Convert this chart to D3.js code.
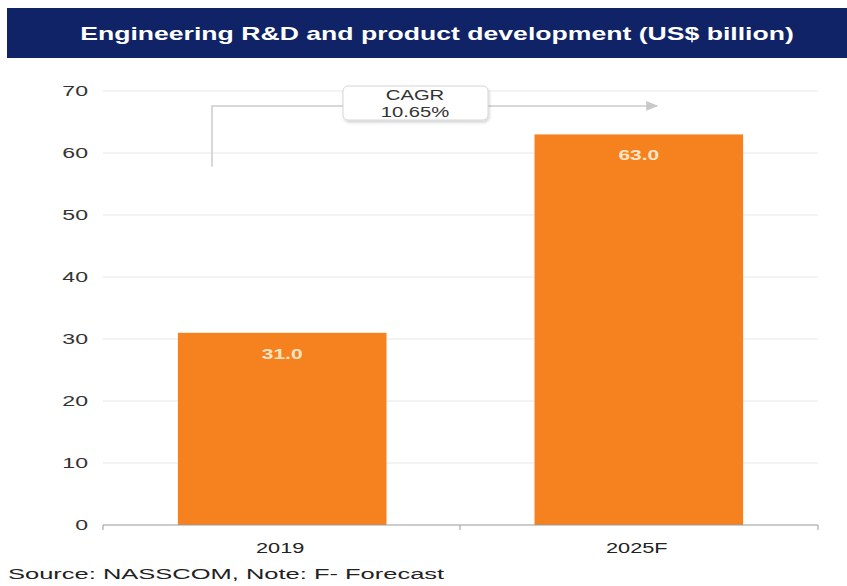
<!DOCTYPE html>
<html>
<head>
<meta charset="utf-8">
<script src="https://cdn.jsdelivr.net/npm/d3@7"></script>
<style>
  body { margin: 0; background: #fff; }
  text { font-family: "Liberation Sans", Arial, sans-serif; }
</style>
</head>
<body>
<script>
var categories = ["2019", "2025F"];
var values = [31.0, 63.0];
var yTicks = [0, 10, 20, 30, 40, 50, 60, 70];
var title = "Engineering R&D and product development (US$ billion)";
var cagrLines = ["CAGR", "10.65%"];
var source = "Source: NASSCOM, Note: F- Forecast";

var w = 847, h = 586;
var svg = d3.select("body").append("svg").attr("width", w).attr("height", h);

// the source picture is stretched sideways, so the text is too
function place(sel, x, y, sx) {
  sel.attr("x", 0).attr("y", 0)
    .attr("transform", "translate(" + x + "," + y + ") scale(" + sx + ",1)");
  return sel;
}

var defs = svg.append("defs");
defs.append("marker")
  .attr("id", "arrow")
  .attr("viewBox", "0 0 10 10")
  .attr("refX", 9).attr("refY", 5)
  .attr("markerWidth", 8).attr("markerHeight", 8)
  .attr("orient", "auto")
  .append("path").attr("d", "M0,1 L10,5 L0,9 z").attr("fill", "#c8c8c8");
var f = defs.append("filter").attr("id", "shadow").attr("x", "-20%").attr("y", "-30%").attr("width", "140%").attr("height", "170%");
f.append("feDropShadow").attr("dx", 1).attr("dy", 2).attr("stdDeviation", 1.5).attr("flood-color", "#000").attr("flood-opacity", 0.18);

// title bar
svg.append("rect").attr("x", 7).attr("y", 8).attr("width", w - 7).attr("height", 50).attr("fill", "#0f2366");
place(svg.append("text"), 437, 40, 1.4).attr("text-anchor", "middle")
  .attr("fill", "#fff").attr("font-size", 19).attr("font-weight", "bold").text(title);

var x = d3.scaleBand().domain(categories).range([103, 818]).paddingInner(0.415).paddingOuter(0.21);
var y = d3.scaleLinear().domain([0, 70]).range([525, 91]);

// gridlines
svg.append("g").selectAll("line").data(yTicks.slice(1)).enter().append("line")
  .attr("x1", 103).attr("x2", 818)
  .attr("y1", function (d) { return y(d); }).attr("y2", function (d) { return y(d); })
  .attr("stroke", "#e8e8e8").attr("stroke-width", 1);

// y axis labels
var yAxis = svg.append("g").attr("transform", "translate(88,0)")
  .call(d3.axisLeft(y).tickValues(yTicks).tickSize(0).tickPadding(0));
yAxis.select(".domain").remove();
yAxis.selectAll("text").attr("font-size", 14).attr("fill", "#333")
  .attr("font-family", "Liberation Sans, Arial, sans-serif")
  .attr("transform", "scale(1.65,1)");

// bars
svg.append("g").selectAll("rect").data(values).enter().append("rect")
  .attr("x", function (d, i) { return x(categories[i]); })
  .attr("width", x.bandwidth())
  .attr("y", function (d) { return y(d); })
  .attr("height", function (d) { return y(0) - y(d); })
  .attr("fill", "#f5821f");

svg.append("g").selectAll("text").data(values).enter().append("text")
  .each(function (d, i) {
    place(d3.select(this), x(categories[i]) + x.bandwidth() / 2, y(d) + 26, 1.5);
  })
  .attr("text-anchor", "middle").attr("font-size", 14).attr("font-weight", "bold").attr("fill", "#fce4c4")
  .text(function (d) { return d.toFixed(1); });

// x axis
var xAxis = svg.append("g").attr("transform", "translate(0,525)");
xAxis.append("line").attr("x1", 103).attr("x2", 818).attr("stroke", "#999");
xAxis.selectAll("line.tick").data([103, 460, 818]).enter().append("line").attr("class", "tick")
  .attr("x1", function (d) { return d; }).attr("x2", function (d) { return d; })
  .attr("y1", 0).attr("y2", 5).attr("stroke", "#999");
xAxis.selectAll("text").data(categories).enter().append("text")
  .each(function (d) {
    place(d3.select(this), x(d) + x.bandwidth() / 2 - 2, 28, 1.5);
  })
  .attr("text-anchor", "middle").attr("font-size", 14.5).attr("fill", "#222")
  .text(function (d) { return d; });

// CAGR bracket
svg.append("path")
  .attr("d", "M212," + y(57.8) + " L212," + y(67.6) + " L657," + y(67.6))
  .attr("fill", "none").attr("stroke", "#cccccc").attr("stroke-width", 1.5)
  .attr("marker-end", "url(#arrow)");
svg.append("rect").attr("x", 343).attr("y", 86).attr("width", 145).attr("height", 34).attr("rx", 5)
  .attr("fill", "#fff").attr("stroke", "#d6d6d6").attr("filter", "url(#shadow)");
svg.selectAll("text.cagr").data(cagrLines).enter().append("text").attr("class", "cagr")
  .each(function (d, i) {
    place(d3.select(this), 415, 100 + i * 17, 1.35);
  })
  .attr("text-anchor", "middle").attr("font-size", 15).attr("fill", "#333")
  .text(function (d) { return d; });

// source
place(svg.append("text"), 8, 579, 1.7).attr("font-size", 15).attr("fill", "#222").text(source);
</script>
</body>
</html>
